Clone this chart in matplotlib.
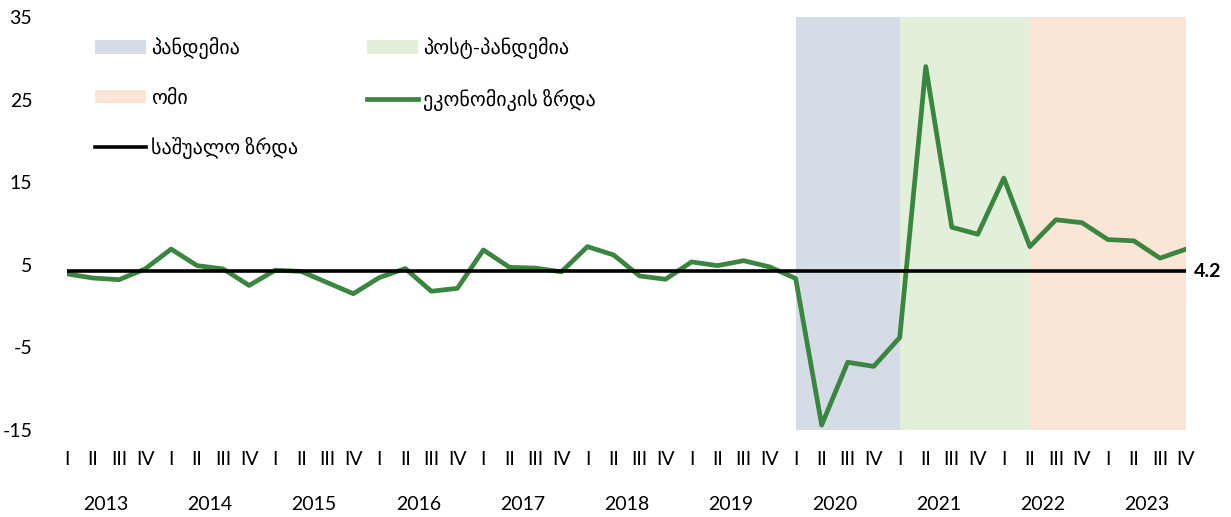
import matplotlib
matplotlib.use("Agg")
import matplotlib.pyplot as plt
from matplotlib.patches import Patch
from matplotlib.lines import Line2D

plt.rcParams['font.family'] = ['Lato', 'DejaVu Sans']

years = ['2013', '2014', '2015', '2016', '2017', '2018', '2019', '2020', '2021', '2022', '2023']
quarters = ['I', 'II', 'III', 'IV']
growth = [3.9, 3.4, 3.2, 4.5,
          6.9, 4.9, 4.5, 2.5,
          4.35, 4.2, 2.85, 1.5,
          3.45, 4.55, 1.8, 2.15,
          6.8, 4.7, 4.6, 4.15,
          7.2, 6.2, 3.65, 3.25,
          5.35, 4.9, 5.5, 4.75,
          3.35, -14.4, -6.8, -7.3,
          -3.8, 29.0, 9.55, 8.7,
          15.5, 7.2, 10.45, 10.1,
          8.05, 7.9, 5.8, 6.9]
average = 4.2
periods = [(28, 32, 'პანდემია', '#D6DCE5'),
           (32, 37, 'პოსტ-პანდემია', '#E2EFDA'),
           (37, 43, 'ომი', '#FBE5D6')]
green = '#3A853F'

fig = plt.figure(figsize=(12.31, 5.17), dpi=100)
ax = fig.add_axes([67/1231, 1 - 430/517, (1186 - 67)/1231, (430 - 17)/517])

x = list(range(len(growth)))
for s, e, lab, col in periods:
    ax.axvspan(s, e, color=col, lw=0, zorder=0)
ax.plot(x, growth, color=green, lw=3.4, zorder=3)
ax.plot([0, len(growth) - 1], [average, average], color='black', lw=2.6, zorder=4)
ax.annotate(f'{average}', xy=(len(growth) - 1, average), xytext=(6, 0),
            textcoords='offset points', va='center', ha='left',
            fontsize=14, fontweight='bold')

ax.set_xlim(0, len(growth) - 1)
ax.set_ylim(-15, 35)
ax.set_yticks([-15, -5, 5, 15, 25, 35])
ax.set_yticklabels(['-15', '-5', '5', '15', '25', '35'], fontsize=14)
ax.set_xticks(x)
ax.set_xticklabels([quarters[i % 4] for i in x], fontsize=14)
ax.tick_params(axis='y', length=0, pad=25)
ax.tick_params(axis='x', length=0, pad=15)
for sp in ax.spines.values():
    sp.set_visible(False)

for k, yr in enumerate(years):
    ax.annotate(yr, xy=(4 * k + 1.5, 0), xycoords=('data', 'axes fraction'),
                xytext=(0, -54), textcoords='offset points',
                ha='center', va='center', fontsize=14)

h_p = Patch(facecolor=periods[0][3], label=periods[0][2])
h_post = Patch(facecolor=periods[1][3], label=periods[1][2])
h_w = Patch(facecolor=periods[2][3], label=periods[2][2])
h_g = Line2D([], [], color=green, lw=3.4, label='ეკონომიკის ზრდა')
h_a = Line2D([], [], color='black', lw=2.6, label='საშუალო ზრდა')

common = dict(frameon=False, fontsize=14.5, handlelength=2.55, handleheight=0.65,
              handletextpad=0.25, labelspacing=1.5, borderpad=0, borderaxespad=0,
              loc='upper left', bbox_transform=fig.transFigure)
leg1 = ax.legend(handles=[h_p, h_w, h_a], bbox_to_anchor=(95/1231, 1 - 37/517), **common)
ax.add_artist(leg1)
leg2 = ax.legend(handles=[h_post, h_g], bbox_to_anchor=(367/1231, 1 - 37/517), **common)

fig.savefig('out.png', dpi=100)
